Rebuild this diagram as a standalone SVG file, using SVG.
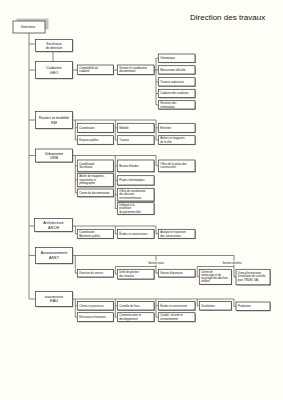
<svg xmlns="http://www.w3.org/2000/svg" width="283" height="400" viewBox="0 0 283 400">
<style>
.bg{fill:#fffff7}
.sh{fill:#8a8a8a}
.bx{fill:#fffffb;stroke:#333;stroke-width:0.7}
.ln{fill:none;stroke:#555;stroke-width:0.7}
text{font-family:"Liberation Sans",Arial,sans-serif;fill:#111}
.m{font-size:3.8px;text-anchor:middle}
.s{font-size:2.7px}
.g{font-size:2.7px;text-anchor:middle}
.title{font-size:8px}
</style>
<rect class="bg" x="0" y="0" width="283" height="400"/>
<text class="title" x="190" y="20">Direction des travaux</text>

<g id="connectors">
<path class="ln" d="M29,33V299 M29,44H35.5 M29,70H35.5 M29,120H35.5 M29,155.5H35.5 M29,226H35.5 M29,255.5H35.5 M29,299H35.5"/>
<path class="ln" d="M53,51.5V61.5"/>
<!-- GEO -->
<path class="ln" d="M72.5,70H77.3 M113.3,70H117.3 M154,70H156 M156,58.2V104.9 M156,58.2H158.3 M156,69.9H158.3 M156,81.9H158.3 M156,93.5H158.3 M156,104.9H158.3"/>
<!-- RM -->
<path class="ln" d="M72.5,120H156 M75.3,120V140 M115.3,120V140 M156,120V140 M75.3,127.8H77.3 M75.3,140H77.3 M115.3,127.8H117.3 M115.3,140H117.3 M156,127.8H158.3 M156,140H158.3"/>
<!-- URB -->
<path class="ln" d="M72.5,155.5H156 M75.3,155.5V192.9 M75.3,165.8H77.3 M75.3,180H77.3 M75.3,192.9H77.3 M115.3,155.5V208.5 M115.3,165.8H117.3 M115.3,180.3H117.3 M115.3,194.7H117.3 M115.3,208.5H117.3 M156,155.5V165.8H158.3"/>
<!-- ARCH -->
<path class="ln" d="M72.5,226H156 M75.3,226V233.8H77.3 M115.3,226V233.8H117.3 M156,226V233.8H158.3"/>
<!-- ASST -->
<path class="ln" d="M72.5,255.5H234 M75.3,255.5V273.1H77.3 M156,255.5V260.8 M156,264.6V266.5 M115.3,266.5H156 M115.3,266.5V274H117.3 M156,266.5V273.1H158.3 M234,255.5V260.8 M234,264.6V266.5 M197.3,266.5H234 M197.3,266.5V276.8H199.3 M234,266.5V277H236"/>
<!-- EAU -->
<path class="ln" d="M72.5,299H234 M75.3,299V317.1 M75.3,305.7H77.3 M75.3,317.1H77.3 M115.3,299V317.1 M115.3,305.7H117.3 M115.3,317.1H117.3 M156,299V317.1 M156,305.7H158.3 M156,317.1H158.3 M197.3,299V305.8H199.3 M234,299V306.5H236"/>
</g>

<g id="directeur">
<rect x="16.5" y="18.5" width="32" height="11" fill="#c4c4c4"/>
<rect class="bx" x="13" y="21" width="32" height="12" stroke-width="0.9"/>
<text class="m" x="28" y="28.3" style="font-size:3.6px">Directeur</text>
</g>
<g id="secretariat">
<rect class="sh" x="36.3" y="40.3" width="37" height="12"/>
<rect class="bx" x="35.5" y="39.5" width="37" height="12"/>
<text class="m" x="54" y="45" style="font-size:3.2px">Secrétariat</text>
<text class="m" x="54" y="49" style="font-size:3.2px">de direction</text>
</g>
<g id="geo">
<rect class="sh" x="36.3" y="62.3" width="37" height="17"/>
<rect class="bx" x="35.5" y="61.5" width="37" height="17"/>
<text class="m" x="54" y="68.5">Cadastre</text>
<text class="m" x="54" y="73.5">GEO</text>
</g>
<g id="rm">
<rect class="sh" x="36.3" y="112.3" width="37" height="17"/>
<rect class="bx" x="35.5" y="111.5" width="37" height="17"/>
<text class="m" x="54" y="118.5">Routes et mobilité</text>
<text class="m" x="54" y="123.5">RM</text>
</g>
<g id="urb">
<rect class="sh" x="36.3" y="149.8" width="37" height="13"/>
<rect class="bx" x="35.5" y="149" width="37" height="13"/>
<text class="m" x="54" y="154.6">Urbanisme</text>
<text class="m" x="54" y="159.4">URB</text>
</g>
<g id="arch">
<rect class="sh" x="35.1" y="219.3" width="38" height="13"/>
<rect class="bx" x="34.3" y="218.5" width="38.2" height="13"/>
<text class="m" x="53.5" y="224">Architecture</text>
<text class="m" x="53.5" y="228.8">ARCH</text>
</g>
<g id="asst">
<rect class="sh" x="36.3" y="248.3" width="37" height="16"/>
<rect class="bx" x="35.5" y="247.5" width="37" height="16"/>
<text class="m" x="54" y="254">Assainissement</text>
<text class="m" x="54" y="259">ASST</text>
</g>
<g id="eau">
<rect class="sh" x="36.3" y="292.3" width="37" height="15"/>
<rect class="bx" x="35.5" y="291.5" width="37" height="15"/>
<text class="m" x="54" y="297.6">eauservice</text>
<text class="m" x="54" y="302.4">EAU</text>
</g>

<!-- GEO sub -->
<g id="geo1"><rect class="sh" x="78.1" y="65.8" width="36" height="9.5"/><rect class="bx" x="77.3" y="65" width="36" height="9.5"/><text class="s" x="79.3" y="68.9">Comptabilité du</text><text class="s" x="79.3" y="72.4">cadastre</text></g>
<g id="geo2"><rect class="sh" x="118.1" y="65.8" width="36.7" height="9.5"/><rect class="bx" x="117.3" y="65" width="36.7" height="9.5"/><text class="s" x="119.3" y="68.9">Gestion et coordination</text><text class="s" x="119.3" y="72.4">documentaire</text></g>
<g id="geo3"><rect class="sh" x="159.1" y="54.8" width="36.7" height="8.3"/><rect class="bx" x="158.3" y="54" width="36.7" height="8.3"/><text class="s" x="160.3" y="59.1">Géomatique</text></g>
<g id="geo4"><rect class="sh" x="159.1" y="66.5" width="36.7" height="8.3"/><rect class="bx" x="158.3" y="65.7" width="36.7" height="8.3"/><text class="s" x="160.3" y="70.8">Mensuration officielle</text></g>
<g id="geo5"><rect class="sh" x="159.1" y="78.5" width="36.7" height="8.3"/><rect class="bx" x="158.3" y="77.7" width="36.7" height="8.3"/><text class="s" x="160.3" y="82.8">Travaux cadastraux</text></g>
<g id="geo6"><rect class="sh" x="159.1" y="90.1" width="36.7" height="8.3"/><rect class="bx" x="158.3" y="89.3" width="36.7" height="8.3"/><text class="s" x="160.3" y="94.4">Cadastre des conduites</text></g>
<g id="geo7"><rect class="sh" x="159.1" y="101.5" width="36.7" height="8.3"/><rect class="bx" x="158.3" y="100.7" width="36.7" height="8.3"/><text class="s" x="160.3" y="104">Structure des</text><text class="s" x="160.3" y="107.5">informations</text></g>

<!-- RM sub -->
<g id="rm1"><rect class="sh" x="78.1" y="124.1" width="36" height="9"/><rect class="bx" x="77.3" y="123.3" width="36" height="9"/><text class="s" x="79.3" y="128.7">Coordination</text></g>
<g id="rm2"><rect class="sh" x="78.1" y="136.5" width="36" height="8.6"/><rect class="bx" x="77.3" y="135.7" width="36" height="8.6"/><text class="s" x="79.3" y="140.9">Espaces publics</text></g>
<g id="rm3"><rect class="sh" x="118.1" y="124.1" width="36.7" height="9"/><rect class="bx" x="117.3" y="123.3" width="36.7" height="9"/><text class="s" x="119.3" y="128.7">Mobilité</text></g>
<g id="rm4"><rect class="sh" x="118.1" y="136.5" width="36.7" height="8.6"/><rect class="bx" x="117.3" y="135.7" width="36.7" height="8.6"/><text class="s" x="119.3" y="140.9">Travaux</text></g>
<g id="rm5"><rect class="sh" x="159.1" y="124.1" width="36.7" height="9"/><rect class="bx" x="158.3" y="123.3" width="36.7" height="9"/><text class="s" x="160.3" y="128.7">Entretien</text></g>
<g id="rm6"><rect class="sh" x="159.1" y="136.5" width="36.7" height="8.6"/><rect class="bx" x="158.3" y="135.7" width="36.7" height="8.6"/><text class="s" x="160.3" y="139.2">Ateliers et magasins</text><text class="s" x="160.3" y="142.7">de la ville</text></g>

<!-- URB sub -->
<g id="urb1"><rect class="sh" x="78.1" y="160.8" width="36" height="11.7"/><rect class="bx" x="77.3" y="160" width="36" height="11.7"/><text class="s" x="79.3" y="164.9">Coordination</text><text class="s" x="79.3" y="168.4">Secrétariat</text></g>
<g id="urb2"><rect class="sh" x="78.1" y="174.1" width="36" height="13.4"/><rect class="bx" x="77.3" y="173.3" width="36" height="13.4"/><text class="s" x="79.3" y="177.2">Atelier de maquettes,</text><text class="s" x="79.3" y="180.7">expositions et</text><text class="s" x="79.3" y="184.2">photographie</text></g>
<g id="urb3"><rect class="sh" x="78.1" y="189.8" width="36" height="7.7"/><rect class="bx" x="77.3" y="189" width="36" height="7.7"/><text class="s" x="79.3" y="193.8">Centre de documentation</text></g>
<g id="urb4"><rect class="sh" x="118.1" y="160.8" width="36.7" height="11.7"/><rect class="bx" x="117.3" y="160" width="36.7" height="11.7"/><text class="s" x="119.3" y="166.7">Bureau d'études</text></g>
<g id="urb5"><rect class="sh" x="118.1" y="176.5" width="36.7" height="9.3"/><rect class="bx" x="117.3" y="175.7" width="36.7" height="9.3"/><text class="s" x="119.3" y="181.2">Projets informatiques</text></g>
<g id="urb6"><rect class="sh" x="118.1" y="189.1" width="36.7" height="12.7"/><rect class="bx" x="117.3" y="188.3" width="36.7" height="12.7"/><text class="s" x="119.3" y="192">Office de coordination</text><text class="s" x="119.3" y="195.4">des dossiers</text><text class="s" x="119.3" y="198.8">environnementaux</text></g>
<g id="urb7"><rect class="sh" x="118.1" y="203.5" width="36.7" height="11.6"/><rect class="bx" x="117.3" y="202.7" width="36.7" height="11.6"/><text class="s" x="119.3" y="205.9">Délégué à la</text><text class="s" x="119.3" y="209.2">protection</text><text class="s" x="119.3" y="212.5">du patrimoine bâti</text></g>
<g id="urb8"><rect class="sh" x="159.1" y="160.8" width="36.7" height="11.7"/><rect class="bx" x="158.3" y="160" width="36.7" height="11.7"/><text class="s" x="160.3" y="164.9">Office de la police des</text><text class="s" x="160.3" y="168.4">constructions</text></g>

<!-- ARCH sub -->
<g id="arch1"><rect class="sh" x="78.1" y="230.1" width="36" height="9"/><rect class="bx" x="77.3" y="229.3" width="36" height="9"/><text class="s" x="79.3" y="233">Coordination</text><text class="s" x="79.3" y="236.5">Bâtiments publics</text></g>
<g id="arch2"><rect class="sh" x="118.1" y="230.1" width="36.7" height="9"/><rect class="bx" x="117.3" y="229.3" width="36.7" height="9"/><text class="s" x="119.3" y="234.7">Études et constructions</text></g>
<g id="arch3"><rect class="sh" x="159.1" y="230.1" width="36.7" height="9"/><rect class="bx" x="158.3" y="229.3" width="36.7" height="9"/><text class="s" x="160.3" y="233">Analyse et inspection</text><text class="s" x="160.3" y="236.5">des constructions</text></g>

<!-- ASST sub -->
<text class="g" x="156" y="263.5">Section eaux</text>
<text class="g" x="232" y="263.5">Section déchets</text>
<g id="asst1"><rect class="sh" x="78.1" y="270.3" width="36" height="7.5"/><rect class="bx" x="77.3" y="269.5" width="36" height="7.5"/><text class="s" x="79.3" y="274.2">Direction du service</text></g>
<g id="asst2"><rect class="sh" x="118.1" y="270.1" width="36.7" height="9.7"/><rect class="bx" x="117.3" y="269.3" width="36.7" height="9.7"/><text class="s" x="119.3" y="273">Unité de gestion</text><text class="s" x="119.3" y="276.5">des réseaux</text></g>
<g id="asst3"><rect class="sh" x="159.1" y="270.1" width="36.7" height="7.7"/><rect class="bx" x="158.3" y="269.3" width="36.7" height="7.7"/><text class="s" x="160.3" y="274.1">Station d'épuration</text></g>
<g id="asst4"><rect class="sh" x="200.1" y="270.1" width="32" height="15"/><rect class="bx" x="199.3" y="269.3" width="32" height="15"/><text class="s" x="201" y="272.5">Centre de</text><text class="s" x="201" y="275.8">ramassage et de</text><text class="s" x="201" y="279.1">recyclage des déchets</text><text class="s" x="201" y="282.4">urbains</text></g>
<g id="asst5"><rect class="sh" x="236.8" y="270.1" width="34" height="15.5"/><rect class="bx" x="236" y="269.3" width="34" height="15.5"/><text class="s" x="237.7" y="273.6">Usine d'incinération</text><text class="s" x="237.7" y="277.2">(installation de contrôle</text><text class="s" x="237.7" y="280.8">pour TRIDEL SA)</text></g>

<!-- EAU sub -->
<g id="eau1"><rect class="sh" x="78.1" y="302.3" width="36" height="8.5"/><rect class="bx" x="77.3" y="301.5" width="36" height="8.5"/><text class="s" x="79.3" y="306.7">Clients et processus</text></g>
<g id="eau2"><rect class="sh" x="78.1" y="313.5" width="36" height="8.8"/><rect class="bx" x="77.3" y="312.7" width="36" height="8.8"/><text class="s" x="79.3" y="318">Ressources humaines</text></g>
<g id="eau3"><rect class="sh" x="118.1" y="302.3" width="36.7" height="8.5"/><rect class="bx" x="117.3" y="301.5" width="36.7" height="8.5"/><text class="s" x="119.3" y="306.7">Contrôle de l'eau</text></g>
<g id="eau4"><rect class="sh" x="118.1" y="313.5" width="36.7" height="8.8"/><rect class="bx" x="117.3" y="312.7" width="36.7" height="8.8"/><text class="s" x="119.3" y="316.3">Communication et</text><text class="s" x="119.3" y="319.8">développement</text></g>
<g id="eau5"><rect class="sh" x="159.1" y="302.3" width="36.7" height="8.5"/><rect class="bx" x="158.3" y="301.5" width="36.7" height="8.5"/><text class="s" x="160.3" y="306.7">Études et construction</text></g>
<g id="eau6"><rect class="sh" x="159.1" y="313.5" width="36.7" height="8.8"/><rect class="bx" x="158.3" y="312.7" width="36.7" height="8.8"/><text class="s" x="160.3" y="316.3">Qualité, sécurité et</text><text class="s" x="160.3" y="319.8">environnement</text></g>
<g id="eau7"><rect class="sh" x="200.1" y="302.3" width="32" height="8.5"/><rect class="bx" x="199.3" y="301.5" width="32" height="8.5"/><text class="s" x="201.3" y="306.7">Distribution</text></g>
<g id="eau8"><rect class="sh" x="236.8" y="302.8" width="34" height="8.5"/><rect class="bx" x="236" y="302" width="34" height="8.5"/><text class="s" x="238" y="307.2">Production</text></g>
</svg>
